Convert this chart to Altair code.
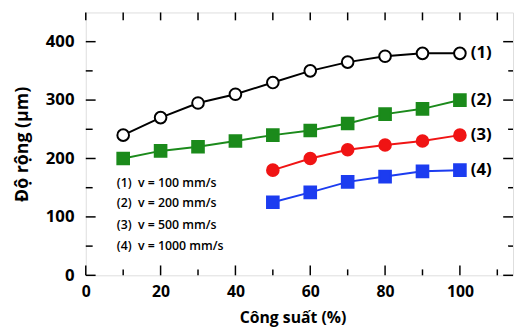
import altair as alt
import pandas as pd

# data
power = [10, 20, 30, 40, 50, 60, 70, 80, 90, 100]
w1 = [240, 270, 295, 310, 330, 350, 365, 375, 380, 380]
w2 = [200, 213, 220, 230, 240, 248, 260, 276, 285, 300]
power34 = [50, 60, 70, 80, 90, 100]
w3 = [180, 200, 215, 223, 230, 240]
w4 = [125, 142, 160, 169, 178, 180]
series_names = ["(1)", "(2)", "(3)", "(4)"]
legend_lines = ["(1)\u00a0\u00a0v = 100 mm/s", "(2)\u00a0\u00a0v = 200 mm/s",
                "(3)\u00a0\u00a0v = 500 mm/s", "(4)\u00a0\u00a0v = 1000 mm/s"]
legend_y = [158, 123, 86, 50]
x_major = [0, 20, 40, 60, 80, 100]
x_minor = [10, 30, 50, 70, 90, 110]
y_major = [0, 100, 200, 300, 400]
y_minor = [50, 150, 250, 350]

colors = ["black", "#1b8a1b", "#f01414", "#1c3cf0"]
fills = ["white", "#1b8a1b", "#f01414", "#1c3cf0"]
shapes = ["circle", "square", "circle", "square"]

rows = []
for name, xs, ys in [("(1)", power, w1), ("(2)", power, w2), ("(3)", power34, w3), ("(4)", power34, w4)]:
    for xv, yv in zip(xs, ys):
        rows.append({"s": name, "x": xv, "y": yv})
df = pd.DataFrame(rows)
last = df.groupby("s").tail(1)

W, H = 434, 267
FONT = "Open Sans"
XMAX, YMAX = 114.2, 450

xs = alt.Scale(domain=[0, XMAX], nice=False, zero=False)
ys = alt.Scale(domain=[0, YMAX], nice=False)
xax = alt.Axis(values=x_major, ticks=False, domain=False, grid=False, labelFont=FONT,
               labelFontSize=16, labelFontWeight="bold", labelColor="black", labelPadding=9,
               title="Công suất (%)", titleFont=FONT, titleFontSize=16, titleFontWeight="bold",
               titleColor="black", titleX=210, titleY=35, titleBaseline="top", labelFlush=False)
yax = alt.Axis(values=y_major, ticks=False, domain=False, grid=False, labelFont=FONT,
               labelFontSize=17, labelFontWeight="bold", labelColor="black", labelPadding=12,
               title="Độ rộng (μm)", titleFont=FONT, titleFontSize=18, titleFontWeight="bold",
               titleColor="black", titlePadding=14)

cs = alt.Scale(domain=series_names, range=colors)
fs = alt.Scale(domain=series_names, range=fills)
ss = alt.Scale(domain=series_names, range=shapes)

base = alt.Chart(df)
lines = base.mark_line(strokeWidth=2).encode(
    x=alt.X("x:Q", scale=xs, axis=xax),
    y=alt.Y("y:Q", scale=ys, axis=yax),
    color=alt.Color("s:N", scale=cs, legend=None),
    detail="s:N",
)
pts = base.mark_point(size=140, strokeWidth=2, opacity=1, filled=False).encode(
    x=alt.X("x:Q", scale=xs),
    y=alt.Y("y:Q", scale=ys),
    stroke=alt.Stroke("s:N", scale=cs, legend=None),
    fill=alt.Fill("s:N", scale=fs, legend=None),
    shape=alt.Shape("s:N", scale=ss, legend=None),
)
labels = alt.Chart(last).mark_text(align="left", baseline="middle", dx=11, font=FONT,
                                   fontSize=17, fontWeight="bold", color="black").encode(
    x=alt.X("x:Q", scale=xs), y=alt.Y("y:Q", scale=ys), text="s:N")

leg = alt.Chart(pd.DataFrame({"t": legend_lines, "y": legend_y, "x": [8.3] * 4})).mark_text(
    align="left", baseline="middle", font=FONT, fontSize=12.5, fontWeight=600, color="black"
).encode(x=alt.X("x:Q", scale=xs), y=alt.Y("y:Q", scale=ys), text="t:N")

def xticks(vals, y1, y2):
    return alt.Chart(pd.DataFrame({"x": vals})).mark_rule(color="black", strokeWidth=1.5).encode(
        x=alt.X("x:Q", scale=xs), y=alt.value(y1), y2=alt.value(y2))

def yticks(vals, x1, x2):
    return alt.Chart(pd.DataFrame({"y": vals})).mark_rule(color="black", strokeWidth=1.5).encode(
        y=alt.Y("y:Q", scale=ys), x=alt.value(x1), x2=alt.value(x2))

ticks = [
    xticks(x_major, H, H - 10), xticks(x_minor, H, H - 6),
    xticks(x_major + x_minor, 0, 8),
    yticks(y_major, 0, 10), yticks(y_minor, 0, 7),
    yticks(y_major, W, W - 10), yticks(y_minor, W, W - 5),
]

chart = alt.layer(lines, pts, labels, leg, *ticks).properties(
    width=W, height=H,
    autosize=alt.AutoSizeParams(type="none"),
    padding={"left": 79, "top": 2, "right": 2, "bottom": 52},
).configure_view(stroke="black", strokeWidth=2).configure(background="white")

chart.save("out.html", embed_options={"renderer": "svg", "actions": False})
